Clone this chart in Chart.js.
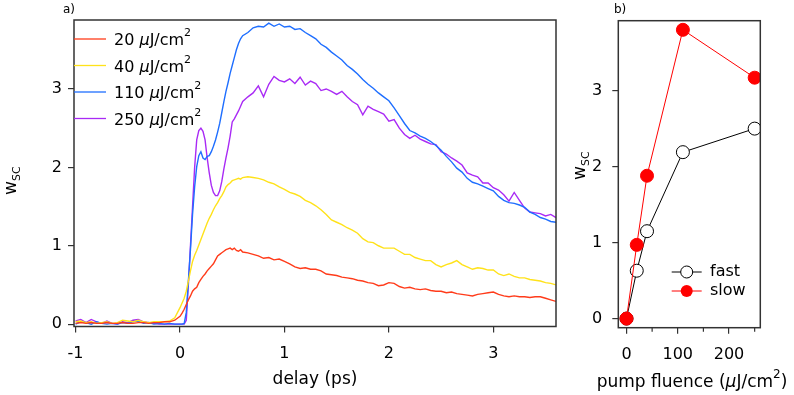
<!DOCTYPE html>
<html><head><meta charset="utf-8">
<script src="https://cdn.jsdelivr.net/npm/chart.js@4.4.0/dist/chart.umd.min.js"></script>
<style>
html,body{margin:0;padding:0;background:#fff;width:794px;height:395px;overflow:hidden;}
#a{position:absolute;left:0;top:0;width:560px;height:395px;}
#b{position:absolute;left:560px;top:0;width:234px;height:395px;}
</style></head><body>
<canvas id="a" width="560" height="395"></canvas>
<canvas id="b" width="234" height="395"></canvas>
<script>
// ---------- Panel a) data ----------
const delay = [
 -1.00,-0.95,-0.90,-0.85,-0.80,-0.75,-0.70,-0.65,-0.60,-0.55,-0.50,-0.45,-0.40,-0.35,-0.30,-0.25,-0.20,-0.15,-0.10,-0.05,0.00,
 0.02,0.04,0.06,0.08,0.10,0.12,0.14,0.16,0.18,0.20,0.22,0.24,0.26,0.28,0.30,0.32,0.34,0.36,0.38,0.40,0.42,0.44,0.46,0.48,0.50,0.52,0.54,0.56,0.58,0.60,
 0.65,0.70,0.75,0.80,0.85,0.90,0.95,1.00,1.05,1.10,1.15,1.20,1.25,1.30,1.35,1.40,1.45,1.50,1.55,1.60,
 1.65,1.70,1.75,1.80,1.85,1.90,1.95,2.00,2.05,2.10,2.15,2.20,2.25,2.30,2.35,2.40,2.45,2.50,2.55,2.60,
 2.65,2.70,2.75,2.80,2.85,2.90,2.95,3.00,3.05,3.10,3.15,3.20,3.25,3.30,3.35,3.40,3.45,3.50,3.55,3.60
];
const w20 = [
 0.01,0.02,0.01,0.02,0.01,0.01,0.02,0.01,0.01,0.02,0.01,0.01,0.02,0.02,0.01,0.02,0.02,0.03,0.03,0.05,0.10,
 0.14,0.19,0.25,0.31,0.36,0.42,0.45,0.47,0.53,0.57,0.61,0.64,0.68,0.71,0.74,0.77,0.82,0.87,0.89,0.91,0.93,0.95,0.96,0.97,0.95,0.97,0.94,0.93,0.95,0.92,
 0.91,0.89,0.87,0.84,0.85,0.82,0.83,0.80,0.77,0.73,0.71,0.72,0.70,0.70,0.68,0.64,0.63,0.62,0.60,0.59,
 0.58,0.56,0.55,0.53,0.52,0.49,0.50,0.53,0.52,0.48,0.46,0.47,0.45,0.44,0.45,0.43,0.42,0.42,0.40,0.41,
 0.39,0.38,0.37,0.36,0.38,0.39,0.40,0.41,0.38,0.36,0.35,0.36,0.35,0.35,0.34,0.35,0.35,0.33,0.31,0.29
];
const w40 = [
 0.03,0.04,0.02,0.03,0.01,0.02,0.03,0.01,0.02,0.05,0.04,0.03,0.05,0.03,0.02,0.03,0.03,0.03,0.04,0.08,0.21,
 0.27,0.33,0.42,0.55,0.68,0.80,0.88,0.94,1.01,1.08,1.15,1.22,1.29,1.35,1.40,1.46,1.51,1.55,1.60,1.64,1.69,1.75,1.78,1.80,1.83,1.84,1.85,1.86,1.85,1.87,
 1.88,1.87,1.86,1.84,1.81,1.79,1.75,1.72,1.68,1.66,1.63,1.58,1.55,1.51,1.46,1.40,1.33,1.30,1.27,1.23,
 1.20,1.16,1.09,1.05,1.04,1.00,0.97,0.97,0.97,0.93,0.89,0.89,0.85,0.83,0.81,0.81,0.76,0.73,0.76,0.78,
 0.81,0.76,0.73,0.70,0.72,0.71,0.69,0.69,0.64,0.62,0.64,0.61,0.59,0.59,0.57,0.56,0.55,0.53,0.52,0.50
];
const w110 = [
 0.00,0.03,0.02,0.00,0.03,0.01,0.00,0.01,0.00,0.02,0.01,0.03,0.04,0.01,0.02,0.00,0.01,0.00,0.01,0.00,0.00,
 0.00,0.01,0.15,0.55,0.95,1.40,1.75,2.01,2.15,2.20,2.12,2.10,2.14,2.15,2.20,2.27,2.35,2.45,2.56,2.70,2.84,2.97,3.08,3.20,3.30,3.40,3.50,3.58,3.64,3.68,
 3.72,3.78,3.80,3.79,3.84,3.80,3.83,3.79,3.80,3.76,3.77,3.72,3.68,3.64,3.57,3.53,3.47,3.42,3.37,3.30,
 3.25,3.19,3.12,3.06,3.01,2.95,2.90,2.85,2.76,2.66,2.56,2.47,2.44,2.40,2.37,2.33,2.28,2.22,2.14,2.07,
 1.99,1.94,1.86,1.81,1.79,1.76,1.73,1.70,1.63,1.58,1.55,1.54,1.52,1.49,1.43,1.40,1.36,1.34,1.31,1.30
];
const w250 = [
 0.04,0.06,0.02,0.06,0.03,0.01,0.04,0.01,0.00,0.03,0.02,0.05,0.06,0.03,0.02,0.01,0.00,0.00,0.00,0.00,0.00,
 0.00,0.00,0.05,0.50,1.00,1.50,2.00,2.35,2.47,2.50,2.46,2.35,2.12,1.93,1.77,1.68,1.64,1.64,1.70,1.82,1.98,2.12,2.25,2.40,2.58,2.62,2.67,2.72,2.78,2.84,
 2.90,2.95,3.04,2.90,3.06,3.16,3.11,3.09,3.13,3.07,3.15,3.05,3.10,3.07,2.98,3.00,2.97,2.93,2.97,2.90,
 2.84,2.80,2.67,2.78,2.74,2.71,2.68,2.59,2.61,2.50,2.42,2.37,2.41,2.36,2.33,2.30,2.29,2.20,2.17,2.12,
 2.08,2.03,1.93,1.90,1.88,1.80,1.80,1.74,1.71,1.65,1.57,1.68,1.58,1.48,1.43,1.42,1.41,1.38,1.40,1.36
];
const seriesNamesA = ["20", "40", "110", "250"];
const xTicksA = [-1, 0, 1, 2, 3];
const yTicksA = [0, 1, 2, 3];

// ---------- Panel b) data ----------
const fluence = [0, 20, 40, 110, 250];
const wFast = [0.00, 0.63, 1.15, 2.19, 2.50];
const wSlow = [0.00, 0.97, 1.88, 3.80, 3.17];
const xTicksB = [0, 100, 200];
const xMinorB = [50, 150, 250];
const yTicksB = [0, 1, 2, 3];

// ---------- styling ----------
const FONT = "'DejaVu Sans', sans-serif";
const AX = '#333333';
const colorsA = ['#ff3b1a', '#ffe21a', '#1e6eff', '#a92af5'];
const seriesA = [w20, w40, w110, w250];

function richWidth(ctx, segs){ let w=0; for(const s of segs){ ctx.font=s[1]; w+=ctx.measureText(s[0]).width; } return w; }
function rich(ctx, x, y, segs){ let cx=x; for(const s of segs){ ctx.font=s[1]; ctx.fillText(s[0], cx, y+(s[2]||0)); cx+=ctx.measureText(s[0]).width; } return cx-x; }
function unitSegs(num){
  return [[num+' ', '16px '+FONT], ['\u03bc', 'italic 16px '+FONT], ['J/cm', '16px '+FONT], ['2', '11px '+FONT, -9]];
}
function drawWsc(ctx, x, y){
  ctx.save();
  ctx.translate(x, y);
  ctx.rotate(-Math.PI/2);
  ctx.fillStyle = '#000';
  ctx.textBaseline = 'alphabetic';
  ctx.textAlign = 'left';
  ctx.font = '17px ' + FONT;
  ctx.fillText('w', 0, 0);
  const ww = ctx.measureText('w').width;
  ctx.font = '11px ' + FONT;
  ctx.fillText('SC', ww, 4);
  ctx.restore();
}
function frameRect(chart){
  const {ctx, chartArea:a} = chart;
  ctx.save(); ctx.strokeStyle = AX; ctx.lineWidth = 1.5;
  ctx.strokeRect(a.left, a.top, a.right-a.left, a.bottom-a.top);
  ctx.restore();
}

const decorA = {
  id: 'decorA',
  afterDraw(chart){
    const ctx = chart.ctx, a = chart.chartArea;
    frameRect(chart);
    ctx.save();
    ctx.fillStyle = '#000';
    ctx.textBaseline = 'alphabetic';
    const rows = [39, 65.5, 92, 118.5];
    for (let i=0;i<4;i++){
      ctx.strokeStyle = colorsA[i]; ctx.lineWidth = 1.3;
      ctx.beginPath(); ctx.moveTo(a.left, rows[i]); ctx.lineTo(a.left+32, rows[i]); ctx.stroke();
      rich(ctx, a.left+40, rows[i]+6, unitSegs(seriesNamesA[i]));
    }
    ctx.font = '12px ' + FONT;
    ctx.fillText('a)', 63, 13);
    ctx.font = '17px ' + FONT; ctx.textAlign = 'center';
    ctx.fillText('delay (ps)', 315, 384);
    ctx.restore();
    drawWsc(ctx, 16, 195);
  }
};

const decorB = {
  id: 'decorB',
  afterDraw(chart){
    const ctx = chart.ctx, a = chart.chartArea;
    frameRect(chart);
    const xs = chart.scales.x;
    ctx.save();
    ctx.strokeStyle = AX; ctx.lineWidth = 1.2;
    for (const v of xMinorB){
      const px = xs.getPixelForValue(v);
      if (px > a.right) continue;
      ctx.beginPath(); ctx.moveTo(px, a.bottom); ctx.lineTo(px, a.bottom+4); ctx.stroke();
    }
    const ys = [272, 291];
    const lx0 = 671.7-560, lx1 = 701.7-560, mx = (lx0+lx1)/2;
    ctx.lineWidth = 1;
    ctx.strokeStyle = '#000';
    ctx.beginPath(); ctx.moveTo(lx0, ys[0]); ctx.lineTo(lx1, ys[0]); ctx.stroke();
    ctx.beginPath(); ctx.arc(mx, ys[0], 6, 0, Math.PI*2); ctx.fillStyle='#fff'; ctx.fill(); ctx.stroke();
    ctx.strokeStyle = '#ff0000';
    ctx.beginPath(); ctx.moveTo(lx0, ys[1]); ctx.lineTo(lx1, ys[1]); ctx.stroke();
    ctx.beginPath(); ctx.arc(mx, ys[1], 6, 0, Math.PI*2); ctx.fillStyle='#ff0000'; ctx.fill();
    ctx.fillStyle = '#000';
    ctx.font = '16px ' + FONT; ctx.textBaseline = 'middle'; ctx.textAlign = 'left';
    ctx.fillText('fast', 710-560, ys[0]);
    ctx.fillText('slow', 710-560, ys[1]);
    ctx.textBaseline = 'alphabetic';
    ctx.font = '12px ' + FONT;
    ctx.fillText('b)', 614-560, 13);
    const segs = [['pump fluence (', '17px '+FONT], ['\u03bc', 'italic 17px '+FONT], ['J/cm', '17px '+FONT], ['2', '12px '+FONT, -9], [')', '17px '+FONT]];
    const w = richWidth(ctx, segs);
    rich(ctx, 692-560 - w/2, 387, segs);
    ctx.restore();
    drawWsc(ctx, 585-560, 180);
  }
};

const tickFont = { family: FONT, size: 16 };
function axisCommon(pad){
  return {
    border: { display: false },
    grid: { display: true, drawOnChartArea: false, drawTicks: true, tickLength: 6, color: AX, lineWidth: 1.2 },
    ticks: { color: '#000', font: tickFont, padding: pad, maxRotation: 0, autoSkip: false }
  };
}

Chart.defaults.animation = false;

new Chart(document.getElementById('a'), {
  type: 'line',
  data: {
    datasets: seriesA.map((vals, i) => ({
      label: seriesNamesA[i],
      data: delay.map((t, k) => ({ x: t, y: vals[k] })),
      borderColor: colorsA[i],
      borderWidth: 1.4,
      pointRadius: 0,
      tension: 0,
      fill: false
    }))
  },
  options: {
    responsive: false,
    animation: false,
    layout: { padding: { left: 0, top: 20, right: 4, bottom: 0 } },
    plugins: { legend: { display: false }, tooltip: { enabled: false } },
    scales: {
      x: Object.assign(axisCommon(12), {
        type: 'linear', min: -1.015, max: 3.6,
        afterBuildTicks: s => { s.ticks = xTicksA.map(v => ({ value: v })); },
        afterFit: s => { s.height = 68.5; }
      }),
      y: Object.assign(axisCommon(6), {
        type: 'linear', min: -0.03, max: 3.88,
        afterBuildTicks: s => { s.ticks = yTicksA.map(v => ({ value: v })); },
        afterFit: s => { s.width = 74; }
      })
    }
  },
  plugins: [decorA]
});

new Chart(document.getElementById('b'), {
  type: 'line',
  data: {
    datasets: [
      {
        label: 'slow',
        data: fluence.map((f, k) => ({ x: f, y: wSlow[k] })),
        borderColor: '#ff0000', backgroundColor: '#ff0000',
        pointBackgroundColor: '#ff0000', pointBorderColor: '#ff0000',
        borderWidth: 1, pointRadius: 6.5, pointBorderWidth: 1, tension: 0, fill: false
      },
      {
        label: 'fast',
        data: fluence.map((f, k) => ({ x: f, y: wFast[k] })),
        borderColor: '#000', backgroundColor: '#fff',
        pointBackgroundColor: '#fff', pointBorderColor: '#000',
        borderWidth: 1, pointRadius: 6.5, pointBorderWidth: 1, tension: 0, fill: false
      }
    ]
  },
  options: {
    responsive: false,
    animation: false,
    layout: { padding: { left: 0, top: 20.7, right: 33.7, bottom: 0 } },
    plugins: { legend: { display: false }, tooltip: { enabled: false } },
    scales: {
      x: Object.assign(axisCommon(12), {
        type: 'linear', min: -16, max: 261,
        afterBuildTicks: s => { s.ticks = xTicksB.map(v => ({ value: v })); },
        afterFit: s => { s.height = 67.3; }
      }),
      y: Object.assign(axisCommon(10), {
        type: 'linear', min: -0.12, max: 3.92,
        afterBuildTicks: s => { s.ticks = yTicksB.map(v => ({ value: v })); },
        afterFit: s => { s.width = 58.3; }
      })
    }
  },
  plugins: [decorB]
});
</script>
</body></html>
